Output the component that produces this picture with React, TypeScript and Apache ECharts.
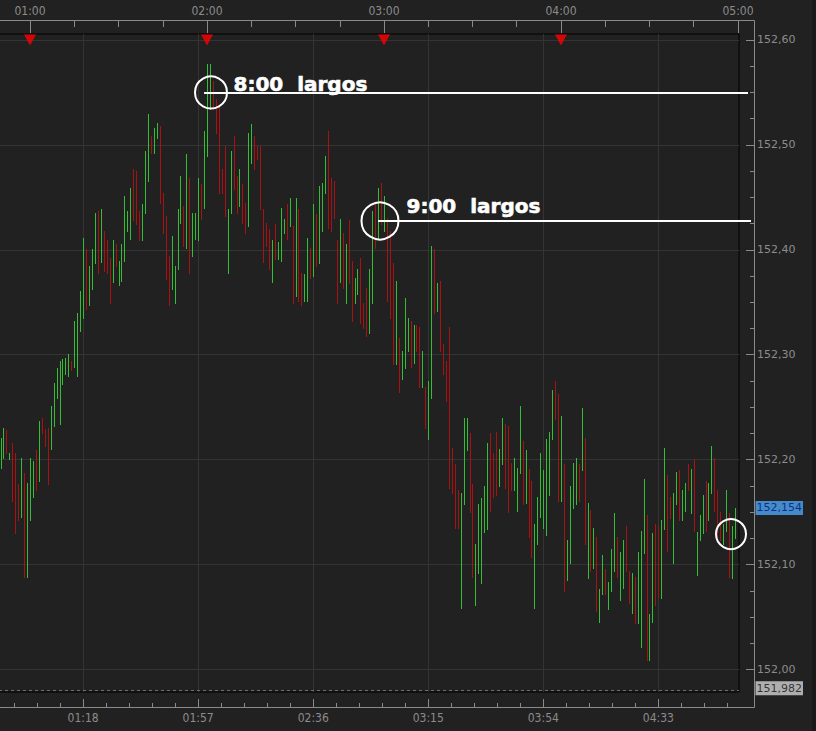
import React, { useEffect, useRef } from "react";
import * as echarts from "echarts";

// ---- data (1-minute bars, minutes after midnight) ----
const firstBarMinute = 50;
const barUp = [
  1,1,0,1,0,0,0,1,0,1, 1,1,0,1,0,0,0,1,1,1, 1,1,1,1,0,1,1,1,1,0, 1,1,1,0,1,0,0,0,1,0, 1,1,1,1,1,0,0,0,1,1,
  1,0,1,1,0,0,0,0,1,1, 1,1,0,1,0,1,1,1,0,1, 1,1,0,0,0,0,0,1,1,0, 0,1,0,0,1,1,0,0,0,0, 0,0,1,0,1,1,1,0,1,0,
  1,0,0,1,1,0,1,0,1,1, 1,0,0,0,0,1,0,1,0,0, 1,1,0,0,0,1,1,0,1,0, 1,0,0,0,1,0,1,1,1,0, 1,0,0,1,0,1,1,0,1,0,
  0,0,0,0,0,0,1,1,1,0, 0,1,1,1,1,1,0,0,0,1, 1,0,0,0,1,1,1,0,1,0, 0,1,1,1,1,1,1,1,0,0, 1,0,1,1,1,1,0,1,0,1,
  0,1,0,1,1,0,1,1,1,0, 1,1,0,0,1,0,1,1,1,0, 1,1,0,0,1,1,0,0,1,1, 0,1,1,0,1,0,1,1,1,0, 1,1,0,0,0,1,1,0,1,1,
];
const barHigh = [
  152.221,152.230,152.228,152.206,152.216,152.206,152.177,152.202,152.187,152.178,
  152.202,152.199,152.209,152.237,152.240,152.229,152.230,152.251,152.273,152.287,
  152.294,152.296,152.297,152.301,152.294,152.332,152.340,152.361,152.411,152.401,
  152.385,152.401,152.435,152.437,152.439,152.418,152.409,152.392,152.409,152.406,
  152.389,152.406,152.451,152.437,152.459,152.477,152.475,152.437,152.444,152.494,
  152.529,152.508,152.516,152.521,152.518,152.454,152.432,152.394,152.413,152.385,
  152.439,152.470,152.442,152.491,152.468,152.435,152.435,152.468,152.463,152.513,
  152.577,152.577,152.561,152.544,152.537,152.477,152.499,152.439,152.494,152.508,
  152.470,152.477,152.463,152.445,152.511,152.520,152.508,152.499,152.499,152.439,
  152.426,152.420,152.409,152.425,152.407,152.440,152.429,152.444,152.449,152.423,
  152.449,152.439,152.378,152.377,152.411,152.402,152.444,152.434,152.461,152.464,
  152.489,152.513,152.468,152.466,152.409,152.429,152.416,152.406,152.428,152.389,
  152.373,152.382,152.392,152.349,152.364,152.382,152.437,152.444,152.459,152.464,
  152.451,152.430,152.418,152.387,152.370,152.316,152.304,152.354,152.335,152.332,
  152.328,152.328,152.326,152.304,152.269,152.275,152.404,152.401,152.368,152.370,
  152.310,152.294,152.326,152.211,152.196,152.171,152.168,152.240,152.240,152.225,
  152.177,152.120,152.158,152.163,152.175,152.216,152.225,152.206,152.226,152.210,
  152.240,152.234,152.232,152.197,152.202,152.192,152.251,152.218,152.209,152.191,
  152.180,152.139,152.164,152.206,152.190,152.220,152.226,152.266,152.275,152.263,
  152.242,152.196,152.123,152.175,152.197,152.202,152.196,152.249,152.221,152.159,
  152.152,152.135,152.126,152.077,152.109,152.096,152.083,152.115,152.149,152.126,
  152.112,152.123,152.137,152.094,152.092,152.088,152.112,152.132,152.182,152.147,
  152.053,152.130,152.139,152.137,152.142,152.211,152.185,152.164,152.168,152.188,
  152.190,152.171,152.178,152.196,152.191,152.201,152.131,152.147,152.166,152.180,
  152.178,152.213,152.202,152.171,152.150,152.139,152.171,152.149,152.137,152.154,
];
const barLow = [
  152.192,152.202,152.206,152.201,152.161,152.130,152.142,152.145,152.088,152.088,
  152.142,152.164,152.171,152.180,152.225,152.213,152.177,152.210,152.232,152.259,
  152.234,152.272,152.282,152.280,152.285,152.288,152.280,152.323,152.335,152.344,
  152.347,152.363,152.387,152.378,152.388,152.380,152.378,152.349,152.369,152.385,
  152.366,152.370,152.389,152.418,152.410,152.428,152.425,152.409,152.409,152.435,
  152.466,152.492,152.492,152.507,152.445,152.416,152.372,152.347,152.363,152.349,
  152.382,152.426,152.404,152.402,152.378,152.394,152.410,152.409,152.429,152.440,
  152.489,152.534,152.534,152.511,152.454,152.454,152.432,152.378,152.435,152.458,
  152.435,152.442,152.426,152.416,152.423,152.483,152.477,152.487,152.439,152.388,
  152.404,152.382,152.369,152.391,152.391,152.389,152.416,152.410,152.423,152.349,
  152.356,152.351,152.347,152.351,152.351,152.373,152.375,152.385,152.387,152.418,
  152.454,152.421,152.418,152.430,152.349,152.369,152.364,152.349,152.368,152.332,
  152.349,152.358,152.330,152.325,152.318,152.321,152.349,152.402,152.411,152.425,
  152.418,152.351,152.335,152.291,152.291,152.264,152.277,152.287,152.304,152.288,
  152.292,152.304,152.269,152.269,152.230,152.220,152.259,152.340,152.342,152.304,
  152.282,152.256,152.173,152.168,152.135,152.135,152.059,152.158,152.209,152.150,
  152.088,152.061,152.092,152.082,152.131,152.134,152.151,152.164,152.166,152.175,
  152.196,152.173,152.150,152.171,152.171,152.151,152.187,152.158,152.159,152.126,
  152.107,152.059,152.120,152.145,152.135,152.128,152.166,152.220,152.239,152.161,
  152.161,152.075,152.085,152.101,152.154,152.158,152.161,152.190,152.120,152.087,
  152.094,152.097,152.056,152.045,152.072,152.072,152.058,152.075,152.094,152.088,
  152.066,152.078,152.094,152.063,152.054,152.044,152.044,152.021,152.111,152.009,
  152.009,152.045,152.061,152.069,152.068,152.134,152.113,152.144,152.101,152.158,
  152.142,152.142,152.151,152.171,152.149,152.132,152.090,152.123,152.130,152.132,
  152.142,152.168,152.151,152.126,152.123,152.120,152.132,152.088,152.087,152.125,
];

const xMin = 49.49;
const xMax = 300.34;
const yMin = 151.9785;
const yMax = 152.6057;

const yTicks = [152.0, 152.1, 152.2, 152.3, 152.4, 152.5, 152.6];
const yMinorStep = 0.025;
const bottomTicks = [78, 117, 156, 195, 234, 273];
const bottomMinorStep = 7.8;
const topTicks = [60, 120, 180, 240, 300];
const topMinorStep = 15;
const hourMarkers = [60, 120, 180, 240];
const lastPrice = 152.154;
const sessionLow = 151.982;

// annotation circles: [minute, price, diameter]
const circles = [
  [121.36, 152.55, 32],
  [178.64, 152.4275, 37],
  [297.63, 152.129, 30],
];
// level lines: [fromMinute, toMinute, price]
const levelLines = [
  [119, 303.4, 152.549],
  [178, 304.4, 152.4275],
];
// notes: [minute, price, text]
const notes: [number, number, string][] = [
  [128.8, 152.5585, "8:00  largos"],
  [187.46, 152.4417, "9:00  largos"],
];

const GREEN = "#36bd36";
const RED = "#a81212";
const AXIS = "#8a8a8a";
const LABEL = "#8c8c8c";
const BG = "#212121";
const COND = '"DejaVu Sans Condensed", "Liberation Sans Narrow", sans-serif';

const fmtTime = (m: number) => {
  const h = Math.floor(m / 60);
  const mm = Math.round(m - h * 60);
  return String(h).padStart(2, "0") + ":" + String(mm).padStart(2, "0");
};

function minorValues(majors: number[], step: number, lo: number, hi: number) {
  const out: number[] = [];
  const base = majors[0];
  const kMin = Math.ceil((lo - base) / step);
  const kMax = Math.floor((hi - base) / step);
  for (let k = kMin; k <= kMax; k++) {
    const v = Math.round((base + k * step) * 10000) / 10000;
    if (!majors.some((m) => Math.abs(m - v) < 1e-6)) out.push(v);
  }
  return out;
}

export default function App() {
  const ref = useRef<HTMLDivElement>(null);
  useEffect(() => {
    if (!ref.current) return;
    const chart = echarts.init(ref.current, undefined, { renderer: "svg" });

    const bars = barHigh.map((h, i) => [firstBarMinute + i, barLow[i], h, barUp[i]]);
    const bottomMinor = minorValues(bottomTicks, bottomMinorStep, xMin, xMax);
    const topMinor = minorValues(topTicks, topMinorStep, xMin, xMax);
    const yMinor = minorValues(yTicks, yMinorStep, yMin, yMax);

    const hiddenLine = { show: false };
    const baseX = { type: "value", min: xMin, max: xMax, axisLine: hiddenLine, splitLine: { show: false } };
    const baseY = { type: "value", min: yMin, max: yMax, axisLine: hiddenLine, splitLine: { show: false } };

    const option: any = {
      animation: false,
      backgroundColor: BG,
      grid: {
        left: -1, top: 34, width: 740, height: 658,
        show: true, borderColor: "#000", borderWidth: 1, backgroundColor: BG,
        containLabel: false, outerBoundsMode: "none",
      },
      xAxis: [
        {
          ...baseX, position: "bottom", offset: 15,
          axisTick: { show: true, inside: true, length: 8, customValues: bottomTicks, lineStyle: { color: AXIS } },
          axisLabel: { customValues: bottomTicks, formatter: fmtTime, color: LABEL, fontSize: 12, fontFamily: COND, margin: 5 },
        },
        {
          ...baseX, position: "bottom", offset: 15,
          axisTick: { show: true, inside: true, length: 4, customValues: bottomMinor, lineStyle: { color: AXIS } },
          axisLabel: { show: false },
        },
        {
          ...baseX, position: "top", offset: 14,
          axisTick: { show: true, inside: true, length: 13, customValues: topTicks, lineStyle: { color: AXIS } },
          axisLabel: { customValues: topTicks, formatter: fmtTime, color: LABEL, fontSize: 12, fontFamily: COND, margin: 3 },
        },
        {
          ...baseX, position: "top", offset: 14,
          axisTick: { show: true, inside: true, length: 7, customValues: topMinor, lineStyle: { color: AXIS } },
          axisLabel: { show: false },
        },
      ],
      yAxis: [
        {
          ...baseY, position: "right", offset: 15,
          axisTick: { show: true, inside: true, length: 8, customValues: yTicks, lineStyle: { color: AXIS } },
          axisLabel: {
            customValues: yTicks,
            formatter: (v: number) => v.toFixed(2).replace(".", ","),
            color: LABEL, fontSize: 11, fontFamily: "DejaVu Sans", margin: 3,
          },
        },
        {
          ...baseY, position: "right", offset: 15,
          axisTick: { show: true, inside: true, length: 4, customValues: yMinor, lineStyle: { color: AXIS } },
          axisLabel: { show: false },
        },
      ],
      graphic: [
        { type: "line", silent: true, shape: { x1: 0, y1: 20.5, x2: 754.5, y2: 20.5 }, style: { stroke: AXIS, lineWidth: 1 } },
        { type: "line", silent: true, shape: { x1: 0, y1: 707.5, x2: 754.5, y2: 707.5 }, style: { stroke: AXIS, lineWidth: 1 } },
        { type: "line", silent: true, shape: { x1: 754.5, y1: 20.5, x2: 754.5, y2: 707.5 }, style: { stroke: AXIS, lineWidth: 1 } },
        { type: "rect", silent: true, shape: { x: 812, y: 0, width: 4, height: 731 }, style: { fill: "#191919" } },
      ],
      series: [
        {
          name: "hours",
          type: "scatter",
          xAxisIndex: 0, yAxisIndex: 0,
          data: hourMarkers.map((m) => [m, yMax]),
          symbol: "triangle", symbolRotate: 180, symbolSize: [12, 11], symbolOffset: [0, 6],
          itemStyle: { color: "#ff0000" },
          clip: false, silent: true, z: 3,
          markLine: {
            silent: true, symbol: "none", z: 1, animation: false,
            label: { show: false },
            emphasis: { disabled: true },
            lineStyle: { color: "#343434", width: 1, type: "solid" },
            data: [
              ...bottomTicks.map((v) => ({ xAxis: v })),
              ...yTicks.map((v) => ({ yAxis: v })),
              { yAxis: sessionLow, lineStyle: { color: "#6e6e6e", type: [3, 3], width: 1 } },
            ],
          },
        },
        {
          name: "bars",
          type: "custom",
          xAxisIndex: 0, yAxisIndex: 0,
          data: bars,
          encode: { x: 0, y: [1, 2] },
          z: 2, silent: true,
          renderItem: (params: any, api: any) => {
            const m = api.value(0);
            const lo = api.value(1);
            const hi = api.value(2);
            const up = api.value(3);
            const top = api.coord([m, hi]);
            const bot = api.coord([m, lo]);
            const x = Math.round(top[0]) + 0.5;
            return {
              type: "line",
              shape: { x1: x, y1: Math.round(top[1]), x2: x, y2: Math.round(bot[1]) + 1 },
              style: { stroke: up ? GREEN : RED, lineWidth: 1 },
            };
          },
        },
        {
          name: "levels",
          type: "custom",
          xAxisIndex: 0, yAxisIndex: 0,
          data: levelLines,
          encode: { x: [0, 1], y: 2 },
          clip: false, silent: true, z: 4,
          renderItem: (params: any, api: any) => {
            const a = api.coord([api.value(0), api.value(2)]);
            const b = api.coord([api.value(1), api.value(2)]);
            return {
              type: "line",
              shape: { x1: a[0], y1: Math.round(a[1]), x2: b[0], y2: Math.round(a[1]) },
              style: { stroke: "#ffffff", lineWidth: 2 },
            };
          },
        },
        {
          name: "circles",
          type: "scatter",
          xAxisIndex: 0, yAxisIndex: 0,
          data: circles,
          symbolSize: (v: number[]) => v[2],
          itemStyle: { color: "rgba(0,0,0,0)", borderColor: "#ffffff", borderWidth: 2, opacity: 1 },
          clip: false, silent: true, z: 5,
        },
        {
          name: "notes",
          type: "scatter",
          xAxisIndex: 0, yAxisIndex: 0,
          data: notes.map((n) => ({ name: n[2], value: [n[0], n[1]] })),
          symbolSize: 1,
          itemStyle: { color: "rgba(0,0,0,0)" },
          clip: false, silent: true, z: 6,
          label: {
            show: true, position: "right", distance: 0, formatter: "{b}",
            color: "#ffffff", opacity: 1, fontSize: 20, fontWeight: "bold", fontFamily: "DejaVu Sans",
            textBorderColor: "#ffffff", textBorderWidth: 0.6,
          },
        },
        {
          name: "priceTags",
          type: "scatter",
          xAxisIndex: 0, yAxisIndex: 0,
          data: [
            { value: [xMax, lastPrice], label: { backgroundColor: "#4ea6f2", color: "#00147a" } },
            { value: [xMax, sessionLow], label: { backgroundColor: "#d2d2d2", color: "#111111" } },
          ],
          symbolSize: 1,
          itemStyle: { color: "rgba(0,0,0,0)" },
          clip: false, silent: true, z: 6,
          label: {
            show: true, position: "right", distance: 16,
            formatter: (p: any) => p.value[1].toFixed(3).replace(".", ","),
            fontSize: 11, fontFamily: "DejaVu Sans", padding: [1, 1, 0, 1], lineHeight: 13,
          },
        },
      ],
    };
    chart.setOption(option);
    return () => chart.dispose();
  }, []);

  return (
    <div
      ref={ref}
      style={{ position: "fixed", left: 0, top: 0, width: 816, height: 731, background: BG }}
    />
  );
}
